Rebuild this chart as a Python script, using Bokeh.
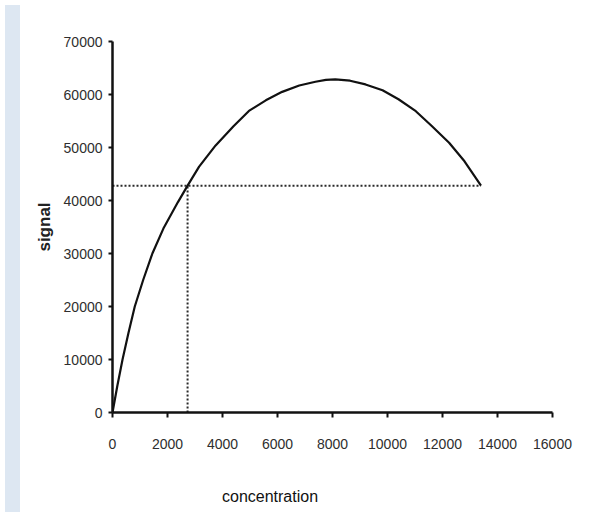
from bokeh.plotting import figure
from bokeh.models import Range1d, FixedTicker, Div
from bokeh.layouts import row, column
from bokeh.embed import file_html
from bokeh.resources import INLINE

# curve
concentration = [0, 175, 365, 580, 810, 1115, 1450, 1850, 2060, 2380, 2730, 3150, 3750,
                 4400, 4960, 5575, 6170, 6790, 7380, 7760, 8100, 8640, 9200, 9820,
                 10400, 11030, 11600, 12240, 12800, 13400]
signal = [0, 5000, 10000, 15000, 20000, 25000, 30000, 34700, 36700, 39700, 42800, 46400, 50400,
          54000, 56900, 58900, 60500, 61700, 62400, 62750, 62850, 62600, 61900, 60800,
          59100, 56850, 54100, 50900, 47400, 42800]

# dotted guide lines
guide_h_x = [0, 13400]
guide_h_y = [42800, 42800]
guide_v_x = [2730, 2730]
guide_v_y = [0, 42800]

x_ticks = [0, 2000, 4000, 6000, 8000, 10000, 12000, 14000, 16000]
y_ticks = [0, 10000, 20000, 30000, 40000, 50000, 60000, 70000]
x_title = "concentration"
y_title = "signal"

FONT = "Liberation Sans"

p = figure(width=560, height=460, output_backend="svg", toolbar_location=None,
           x_range=Range1d(0, 16000), y_range=Range1d(0, 70000),
           min_border_left=87, min_border_right=33, min_border_top=41, min_border_bottom=48)
p.background_fill_color = "white"
p.border_fill_color = "white"
p.outline_line_color = None
p.xgrid.visible = False
p.ygrid.visible = False

p.line(guide_h_x, guide_h_y, line_color="#2a2a2a", line_width=2, line_dash="2 2")
p.line(guide_v_x, guide_v_y, line_color="#2a2a2a", line_width=2, line_dash="2 2")
p.line(concentration, signal, line_color="#111111", line_width=2.2)

for ax in (p.xaxis[0], p.yaxis[0]):
    ax.axis_line_color = "#111111"
    ax.axis_line_width = 2.5
    ax.major_tick_line_color = "#111111"
    ax.major_tick_line_width = 2
    ax.major_tick_in = 0
    ax.minor_tick_line_color = None
    ax.major_label_text_font = FONT
    ax.major_label_text_font_size = "14px"
    ax.major_label_text_color = "#2e2e2e"

p.xaxis.ticker = FixedTicker(ticks=x_ticks)
p.yaxis.ticker = FixedTicker(ticks=y_ticks)
p.xaxis.major_tick_out = 5
p.yaxis.major_tick_out = 4
p.xaxis.major_label_standoff = 21
p.yaxis.major_label_standoff = 6

p.yaxis.axis_label = y_title
p.yaxis.axis_label_text_font = FONT
p.yaxis.axis_label_text_font_style = "bold"
p.yaxis.axis_label_text_font_size = "17px"
p.yaxis.axis_label_text_color = "#222222"
p.yaxis.axis_label_standoff = 7

x_label = Div(text=x_title, width=560, height=47,
              styles={"background-color": "white", "padding-left": "192px",
                      "padding-top": "21px", "font-family": FONT, "font-size": "16px",
                      "color": "#111111", "box-sizing": "border-box"})

left_band = Div(width=15, height=507, styles={"background-color": "#dde7f2"})
right_band = Div(width=2, height=507, styles={"background-color": "#cfdff0"})
layout = row(left_band, column(p, x_label), right_band)

open("out.html", "w").write(file_html(layout, INLINE))
